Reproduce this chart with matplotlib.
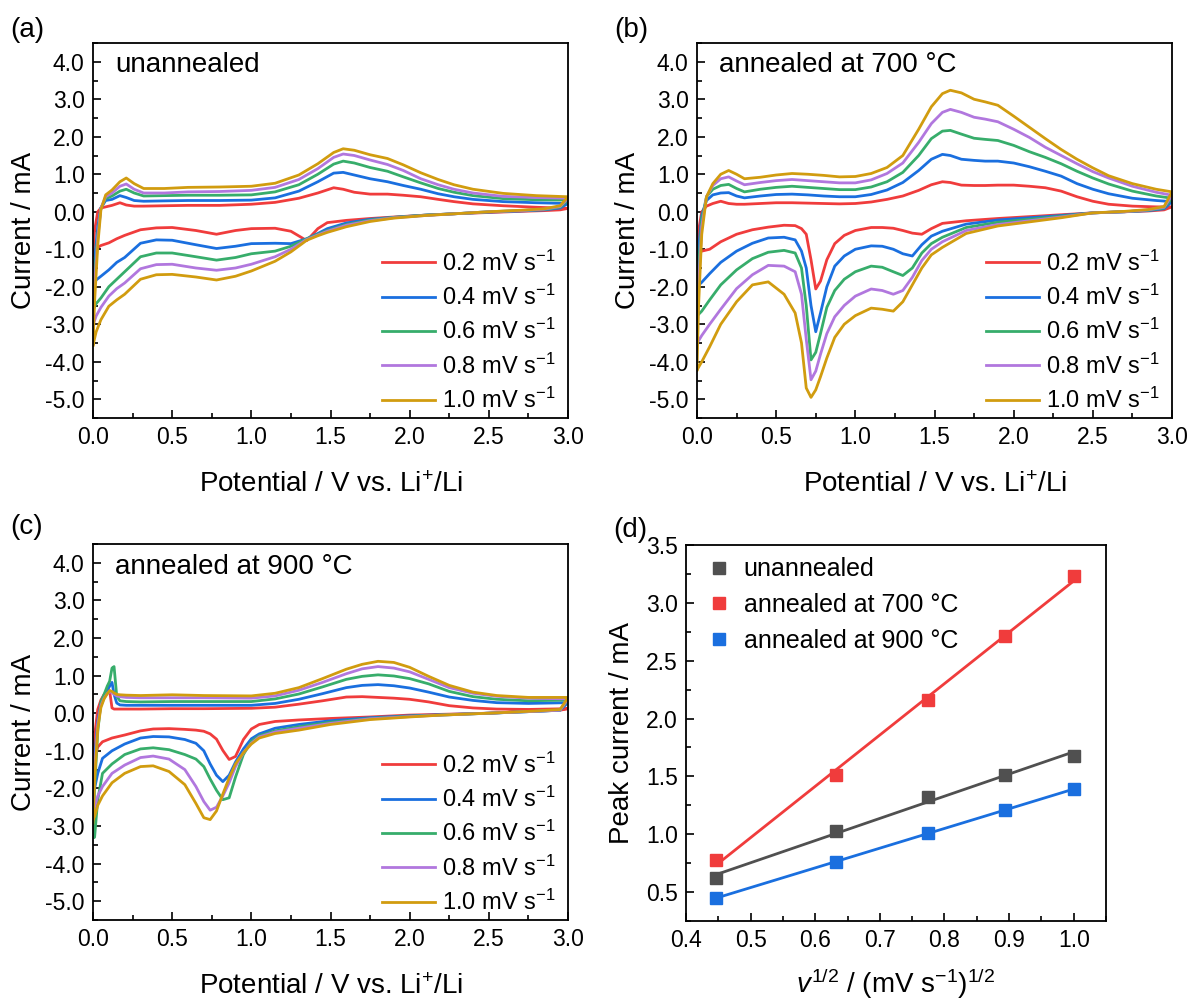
import numpy as np
import matplotlib
matplotlib.use("Agg")
from matplotlib import pyplot as plt
from matplotlib.ticker import MultipleLocator, FormatStrFormatter

plt.rcParams["font.family"] = ["Liberation Sans", "DejaVu Sans"]
plt.rcParams["mathtext.fontset"] = "custom"
plt.rcParams["mathtext.rm"] = "Liberation Sans"
plt.rcParams["mathtext.it"] = "Liberation Sans:italic"
plt.rcParams["mathtext.default"] = "regular"

rates = ["0.2", "0.4", "0.6", "0.8", "1.0"]
colors = ["#f03c3c", "#1a6fdf", "#37ad6b", "#b177de", "#d19c0f"]

# ---------- (a) unannealed ----------
a_E_up = [0.0, 0.01, 0.03, 0.05, 0.08, 0.12, 0.17, 0.21, 0.26, 0.32, 0.45, 0.6, 0.8, 1.0, 1.15,
          1.3, 1.42, 1.52, 1.58, 1.65, 1.75, 1.86, 1.96, 2.07, 2.18, 2.28, 2.4, 2.59, 2.8, 3.0]
a_up_02 = [-1.16, -0.5, 0.0, 0.1, 0.13, 0.17, 0.24, 0.18, 0.15, 0.15, 0.16, 0.17, 0.17, 0.2, 0.25,
           0.36, 0.5, 0.64, 0.6, 0.52, 0.47, 0.47, 0.44, 0.4, 0.33, 0.27, 0.21, 0.16, 0.12, 0.09]
a_up_04 = [-2.0, -1.3, -0.4, 0.1, 0.3, 0.33, 0.43, 0.38, 0.3, 0.28, 0.29, 0.3, 0.3, 0.31, 0.37,
           0.55, 0.8, 1.03, 1.05, 0.98, 0.88, 0.8, 0.7, 0.6, 0.48, 0.4, 0.33, 0.27, 0.24, 0.22]
a_up_06 = [-2.62, -1.7, -0.6, 0.1, 0.35, 0.42, 0.55, 0.6, 0.5, 0.42, 0.43, 0.44, 0.44, 0.45, 0.53,
           0.72, 1.0, 1.27, 1.35, 1.3, 1.18, 1.08, 0.93, 0.77, 0.62, 0.52, 0.43, 0.35, 0.32, 0.31]
a_up_08 = [-3.02, -2.0, -0.7, 0.1, 0.4, 0.5, 0.68, 0.74, 0.6, 0.5, 0.5, 0.53, 0.54, 0.57, 0.65,
           0.86, 1.15, 1.45, 1.54, 1.5, 1.38, 1.26, 1.1, 0.88, 0.72, 0.6, 0.5, 0.41, 0.38, 0.36]
a_up_10 = [-3.56, -2.4, -0.9, 0.05, 0.45, 0.58, 0.8, 0.9, 0.75, 0.62, 0.62, 0.65, 0.66, 0.68, 0.76,
           0.98, 1.28, 1.58, 1.68, 1.64, 1.52, 1.42, 1.25, 1.04, 0.86, 0.72, 0.6, 0.49, 0.43, 0.4]

a_E_dn = [3.0, 2.95, 2.85, 2.7, 2.5, 2.3, 2.1, 1.9, 1.75, 1.6, 1.48, 1.42, 1.35, 1.25, 1.15, 1.0,
          0.9, 0.78, 0.65, 0.5, 0.4, 0.3, 0.2, 0.15, 0.1, 0.05, 0.02, 0.0]
a_dn_02 = [0.09, 0.05, 0.03, 0.01, -0.02, -0.05, -0.09, -0.14, -0.18, -0.23, -0.29, -0.45, -0.77, -0.52,
           -0.44, -0.45, -0.5, -0.6, -0.5, -0.42, -0.43, -0.48, -0.63, -0.72, -0.83, -0.9, -0.98, -1.16]
a_dn_04 = [0.22, 0.1, 0.05, 0.02, -0.01, -0.05, -0.09, -0.15, -0.2, -0.3, -0.45, -0.58, -0.72, -0.85,
           -0.84, -0.85, -0.92, -0.98, -0.88, -0.76, -0.75, -0.84, -1.22, -1.35, -1.55, -1.72, -1.82, -2.0]
a_dn_06 = [0.31, 0.12, 0.06, 0.03, 0.0, -0.05, -0.09, -0.15, -0.22, -0.34, -0.5, -0.6, -0.72, -0.92,
           -1.05, -1.12, -1.22, -1.29, -1.2, -1.1, -1.1, -1.2, -1.6, -1.8, -2.0, -2.3, -2.45, -2.62]
a_dn_08 = [0.36, 0.14, 0.07, 0.03, 0.0, -0.05, -0.1, -0.16, -0.24, -0.36, -0.52, -0.62, -0.74, -1.0,
           -1.2, -1.4, -1.5, -1.56, -1.5, -1.4, -1.41, -1.52, -1.9, -2.05, -2.25, -2.55, -2.78, -3.02]
a_dn_10 = [0.4, 0.16, 0.08, 0.04, 0.0, -0.05, -0.1, -0.17, -0.26, -0.4, -0.55, -0.64, -0.76, -1.07,
           -1.32, -1.58, -1.72, -1.82, -1.74, -1.67, -1.68, -1.8, -2.2, -2.35, -2.52, -2.88, -3.2, -3.56]

# ---------- (b) annealed at 700 C ----------
b_E_up = [0.0, 0.01, 0.03, 0.06, 0.1, 0.15, 0.2, 0.25, 0.3, 0.4, 0.5, 0.6, 0.7, 0.8, 0.9, 1.0, 1.1,
          1.2, 1.3, 1.4, 1.48, 1.55, 1.6, 1.67, 1.75, 1.82, 1.9, 2.0, 2.1, 2.2, 2.3, 2.4, 2.5, 2.6,
          2.75, 2.9, 3.0]
b_up_02 = [-1.07, -0.5, 0.0, 0.15, 0.22, 0.28, 0.22, 0.2, 0.2, 0.22, 0.24, 0.24, 0.23, 0.22, 0.21,
           0.22, 0.26, 0.33, 0.42, 0.57, 0.72, 0.8, 0.78, 0.71, 0.7, 0.7, 0.71, 0.71, 0.68, 0.64, 0.55,
           0.4, 0.28, 0.2, 0.15, 0.13, 0.13]
b_up_04 = [-2.0, -1.0, -0.1, 0.3, 0.45, 0.5, 0.51, 0.42, 0.37, 0.42, 0.46, 0.47, 0.45, 0.42, 0.4,
           0.4, 0.46, 0.58, 0.78, 1.1, 1.4, 1.53, 1.5, 1.4, 1.37, 1.35, 1.35, 1.3, 1.2, 1.08, 0.95,
           0.75, 0.6, 0.48, 0.36, 0.3, 0.27]
b_up_06 = [-2.78, -1.5, -0.2, 0.4, 0.6, 0.7, 0.73, 0.62, 0.53, 0.6, 0.65, 0.68, 0.65, 0.62, 0.59,
           0.59, 0.66, 0.8, 1.05, 1.5, 1.95, 2.15, 2.17, 2.07, 1.96, 1.93, 1.9, 1.77, 1.6, 1.45, 1.28,
           1.08, 0.9, 0.74, 0.55, 0.42, 0.36]
b_up_08 = [-3.51, -2.0, -0.4, 0.4, 0.7, 0.88, 0.93, 0.82, 0.72, 0.78, 0.83, 0.86, 0.83, 0.8, 0.77,
           0.77, 0.85, 1.02, 1.3, 1.85, 2.35, 2.65, 2.73, 2.65, 2.52, 2.47, 2.4, 2.2, 1.98, 1.72, 1.5,
           1.28, 1.07, 0.9, 0.68, 0.52, 0.44]
b_up_10 = [-4.22, -2.5, -0.6, 0.4, 0.75, 1.0, 1.1, 1.0, 0.88, 0.92, 0.98, 1.02, 1.0, 0.97, 0.93,
           0.94, 1.02, 1.18, 1.5, 2.2, 2.8, 3.15, 3.24, 3.17, 3.0, 2.93, 2.84, 2.55, 2.25, 1.95, 1.66,
           1.4, 1.17, 0.96, 0.75, 0.6, 0.53]

b_E_dn = [3.0, 2.95, 2.85, 2.7, 2.5, 2.3, 2.1, 1.9, 1.7, 1.55, 1.48, 1.42, 1.36, 1.3, 1.24, 1.17,
          1.1, 1.0, 0.93, 0.87, 0.82, 0.78, 0.75, 0.72, 0.69, 0.66, 0.62, 0.55, 0.45, 0.35, 0.25,
          0.15, 0.08, 0.03, 0.0]
b_dn_02 = [0.13, 0.05, 0.02, 0.0, -0.03, -0.08, -0.13, -0.18, -0.24, -0.31, -0.45, -0.6, -0.57,
           -0.5, -0.44, -0.42, -0.42, -0.5, -0.63, -0.85, -1.28, -1.85, -2.06, -1.28, -0.6, -0.45,
           -0.37, -0.36, -0.41, -0.48, -0.6, -0.8, -1.0, -1.05, -1.07]
b_dn_04 = [0.27, 0.08, 0.03, 0.0, -0.03, -0.1, -0.16, -0.22, -0.33, -0.52, -0.65, -0.88, -1.18,
           -1.12, -1.0, -0.92, -0.91, -1.0, -1.18, -1.45, -2.0, -2.7, -3.2, -2.5, -1.5, -1.05, -0.75,
           -0.68, -0.7, -0.84, -1.05, -1.35, -1.65, -1.88, -2.0]
b_dn_06 = [0.36, 0.1, 0.04, 0.0, -0.03, -0.12, -0.2, -0.28, -0.42, -0.68, -0.85, -1.1, -1.5, -1.7,
           -1.6, -1.48, -1.45, -1.6, -1.8, -2.1, -2.55, -3.25, -3.75, -3.95, -2.5, -1.5, -1.1, -1.03,
           -1.08, -1.25, -1.55, -1.95, -2.35, -2.65, -2.78]
b_dn_08 = [0.44, 0.12, 0.05, 0.0, -0.03, -0.14, -0.24, -0.34, -0.5, -0.8, -1.0, -1.3, -1.75, -2.1,
           -2.2, -2.1, -2.06, -2.25, -2.5, -2.8, -3.25, -3.8, -4.25, -4.48, -3.4, -2.2, -1.6, -1.45,
           -1.43, -1.68, -2.05, -2.6, -3.0, -3.3, -3.51]
b_dn_10 = [0.53, 0.14, 0.06, 0.01, -0.03, -0.16, -0.27, -0.38, -0.58, -0.95, -1.15, -1.5, -1.95,
           -2.4, -2.65, -2.6, -2.57, -2.77, -3.0, -3.35, -3.9, -4.4, -4.75, -4.95, -4.7, -3.5, -2.7,
           -2.2, -1.87, -1.95, -2.4, -3.0, -3.6, -4.0, -4.22]

# ---------- (c) annealed at 900 C ----------
c_E_up = [0.0, 0.01, 0.03, 0.05, 0.07, 0.09, 0.105, 0.12, 0.133, 0.15, 0.17, 0.21, 0.3, 0.5, 0.7,
          1.0, 1.15, 1.3, 1.45, 1.6, 1.7, 1.8, 1.9, 2.0, 2.12, 2.25, 2.4, 2.55, 2.75, 3.0]
c_up_02 = [-1.4, -0.6, 0.1, 0.35, 0.5, 0.6, 0.6, 0.14, 0.11, 0.11, 0.11, 0.11, 0.11, 0.12, 0.12,
           0.13, 0.16, 0.24, 0.33, 0.43, 0.44, 0.42, 0.4, 0.37, 0.3, 0.2, 0.14, 0.11, 0.1, 0.12]
c_up_04 = [-2.1, -1.2, -0.2, 0.25, 0.45, 0.6, 0.72, 0.82, 0.5, 0.27, 0.22, 0.21, 0.21, 0.21, 0.21,
           0.21, 0.26, 0.37, 0.52, 0.68, 0.74, 0.76, 0.73, 0.67, 0.56, 0.43, 0.34, 0.28, 0.26, 0.28]
c_up_06 = [-3.3, -2.0, -0.5, 0.3, 0.5, 0.72, 0.85, 1.2, 1.24, 0.45, 0.33, 0.31, 0.3, 0.31, 0.31,
           0.31, 0.38, 0.51, 0.7, 0.9, 0.98, 1.02, 0.99, 0.92, 0.78, 0.58, 0.44, 0.37, 0.33, 0.35]
c_up_08 = [-2.56, -1.5, -0.3, 0.2, 0.4, 0.52, 0.57, 0.55, 0.5, 0.46, 0.44, 0.42, 0.41, 0.41, 0.41,
           0.4, 0.46, 0.61, 0.82, 1.05, 1.18, 1.24, 1.2, 1.1, 0.9, 0.68, 0.53, 0.45, 0.4, 0.38]
c_up_10 = [-2.92, -1.8, -0.4, 0.15, 0.38, 0.52, 0.6, 0.58, 0.54, 0.5, 0.49, 0.48, 0.47, 0.49, 0.47,
           0.46, 0.53, 0.68, 0.92, 1.17, 1.3, 1.38, 1.35, 1.22, 0.98, 0.74, 0.56, 0.47, 0.42, 0.42]

c_E_dn = [3.0, 2.95, 2.8, 2.5, 2.2, 2.0, 1.75, 1.5, 1.3, 1.15, 1.05, 1.0, 0.95, 0.9, 0.86, 0.82,
          0.78, 0.74, 0.7, 0.65, 0.58, 0.48, 0.38, 0.3, 0.2, 0.12, 0.06, 0.03, 0.01, 0.0]
c_dn_02 = [0.12, 0.08, 0.06, 0.0, -0.03, -0.05, -0.1, -0.14, -0.18, -0.22, -0.3, -0.42, -0.7, -1.15,
           -1.23, -0.99, -0.69, -0.55, -0.48, -0.45, -0.43, -0.41, -0.42, -0.47, -0.58, -0.66, -0.76,
           -0.9, -1.2, -1.4]
c_dn_04 = [0.28, 0.08, 0.05, 0.0, -0.04, -0.07, -0.12, -0.2, -0.3, -0.4, -0.55, -0.68, -0.95, -1.3,
           -1.65, -1.82, -1.65, -1.35, -1.0, -0.8, -0.7, -0.63, -0.62, -0.66, -0.82, -1.0, -1.2, -1.6,
           -2.0, -2.1]
c_dn_06 = [0.35, 0.08, 0.05, 0.0, -0.05, -0.08, -0.14, -0.24, -0.36, -0.47, -0.6, -0.75, -1.1, -1.7,
           -2.25, -2.3, -2.05, -1.75, -1.42, -1.22, -1.1, -0.97, -0.92, -0.95, -1.1, -1.35, -1.6, -2.3,
           -3.3, -3.3]
c_dn_08 = [0.38, 0.08, 0.05, 0.0, -0.05, -0.09, -0.15, -0.27, -0.4, -0.5, -0.63, -0.8, -1.05, -1.42,
           -1.85, -2.2, -2.5, -2.58, -2.35, -1.95, -1.5, -1.22, -1.14, -1.18, -1.38, -1.6, -1.95, -2.2,
           -2.5, -2.56]
c_dn_10 = [0.42, 0.1, 0.06, 0.0, -0.05, -0.1, -0.17, -0.3, -0.45, -0.54, -0.66, -0.82, -1.05, -1.35,
           -1.72, -2.15, -2.6, -2.83, -2.78, -2.4, -1.9, -1.55, -1.4, -1.42, -1.6, -1.85, -2.2, -2.45,
           -2.75, -2.83]

# ---------- (d) peak current vs sqrt(scan rate) ----------
sqrt_v = [0.447, 0.632, 0.775, 0.894, 1.0]
peak_unannealed = [0.62, 1.03, 1.32, 1.51, 1.68]
peak_700 = [0.78, 1.51, 2.16, 2.71, 3.23]
peak_900 = [0.45, 0.76, 1.01, 1.21, 1.39]
d_names = ["unannealed", "annealed at 700 \u00b0C", "annealed at 900 \u00b0C"]
d_colors = ["#505050", "#f03c3c", "#1a6fdf"]

W, H = 1192, 999
fig = plt.figure(figsize=(W / 100, H / 100), dpi=100)


def px_axes(left, top, right, bottom):
    return fig.add_axes([left / W, 1 - bottom / H, (right - left) / W, (bottom - top) / H])


def style(ax):
    for s in ax.spines.values():
        s.set_linewidth(1.3)
    ax.tick_params(which="both", direction="in", top=False, right=False, labelsize=16.5,
                   width=1.2, pad=6)
    ax.tick_params(which="major", length=6)
    ax.tick_params(which="minor", length=3.5)


def cv_panel(ax, E_up, ups, E_dn, dns, title):
    for i in range(5):
        ax.plot(list(E_up) + list(E_dn), list(ups[i]) + list(dns[i]), color=colors[i], lw=2.0,
                label=rates[i] + " mV s$^{-1}$")
    ax.set_xlim(0, 3)
    ax.set_ylim(-5.5, 4.5)
    ax.xaxis.set_major_locator(MultipleLocator(0.5))
    ax.xaxis.set_minor_locator(MultipleLocator(0.25))
    ax.yaxis.set_major_locator(MultipleLocator(1.0))
    ax.yaxis.set_minor_locator(MultipleLocator(0.5))
    ax.xaxis.set_major_formatter(FormatStrFormatter("%.1f"))
    ax.yaxis.set_major_formatter(FormatStrFormatter("%.1f"))
    style(ax)
    ax.set_xlabel("Potential / V vs. Li$^{+}$/Li", fontsize=20, labelpad=16)
    ax.set_ylabel("Current / mA", fontsize=20, labelpad=6)
    ax.text(0.046, 0.94, title, transform=ax.transAxes, fontsize=20, va="center", ha="left")
    ax.legend(loc="lower right", bbox_to_anchor=(0.994, -0.012), frameon=False, fontsize=17,
              handlelength=2.25, labelspacing=0.39, handletextpad=0.3, borderaxespad=0.0)


ax_a = px_axes(93, 43, 568, 418)
cv_panel(ax_a, a_E_up, [a_up_02, a_up_04, a_up_06, a_up_08, a_up_10],
         a_E_dn, [a_dn_02, a_dn_04, a_dn_06, a_dn_08, a_dn_10], "unannealed")
ax_b = px_axes(697, 43, 1172, 418)
cv_panel(ax_b, b_E_up, [b_up_02, b_up_04, b_up_06, b_up_08, b_up_10],
         b_E_dn, [b_dn_02, b_dn_04, b_dn_06, b_dn_08, b_dn_10], "annealed at 700 \u00b0C")
ax_c = px_axes(93, 544, 568, 920)
cv_panel(ax_c, c_E_up, [c_up_02, c_up_04, c_up_06, c_up_08, c_up_10],
         c_E_dn, [c_dn_02, c_dn_04, c_dn_06, c_dn_08, c_dn_10], "annealed at 900 \u00b0C")

ax_d = px_axes(686, 545, 1106, 921)
for name, vals, col in zip(d_names, [peak_unannealed, peak_700, peak_900], d_colors):
    k, b = np.polyfit(sqrt_v, vals, 1)
    xs = np.array([sqrt_v[0], sqrt_v[-1]])
    ax_d.plot(xs, k * xs + b, color=col, lw=2.0)
    ax_d.plot(sqrt_v, vals, ls="none", marker="s", ms=9, color=col, label=name)
ax_d.set_xlim(0.4, 1.05)
ax_d.set_ylim(0.25, 3.5)
ax_d.xaxis.set_major_locator(MultipleLocator(0.1))
ax_d.xaxis.set_minor_locator(MultipleLocator(0.05))
ax_d.yaxis.set_major_locator(MultipleLocator(0.5))
ax_d.yaxis.set_minor_locator(MultipleLocator(0.25))
ax_d.xaxis.set_major_formatter(FormatStrFormatter("%.1f"))
ax_d.yaxis.set_major_formatter(FormatStrFormatter("%.1f"))
style(ax_d)
ax_d.set_xlabel("$\\mathit{v}^{1/2}$ / (mV s$^{-1}$)$^{1/2}$", fontsize=20, labelpad=10)
ax_d.set_ylabel("Peak current / mA", fontsize=20, labelpad=8)
ax_d.legend(loc="upper left", frameon=False, fontsize=18, handlelength=1.6, handletextpad=0.2,
            labelspacing=0.46, borderaxespad=0.1)

for lab, x, y in [("(a)", 10, 30), ("(b)", 614, 30), ("(c)", 10, 527), ("(d)", 613, 530)]:
    fig.text(x / W, 1 - y / H, lab, fontsize=20, ha="left", va="center")

fig.savefig("out.png", dpi=100)
